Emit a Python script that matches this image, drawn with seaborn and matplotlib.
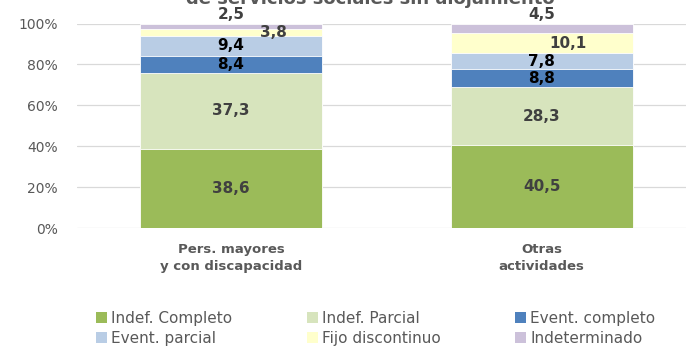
import matplotlib
matplotlib.use("Agg")
import matplotlib.pyplot as plt
import numpy as np
import pandas as pd
import seaborn as sns
from matplotlib.patches import Patch
from matplotlib.ticker import PercentFormatter

# Contract types by activity (share of employees, %)
categories = ["Pers. mayores\ny con discapacidad", "Otras\nactividades"]
series = ["Indef. Completo", "Indef. Parcial", "Event. completo",
          "Event. parcial", "Fijo discontinuo", "Indeterminado"]
indef_completo = [38.6, 40.5]
indef_parcial = [37.3, 28.3]
event_completo = [8.4, 8.8]
event_parcial = [9.4, 7.8]
fijo_discontinuo = [3.8, 10.1]
indeterminado = [2.5, 4.5]
title = "de servicios sociales sin alojamiento"

values = [indef_completo, indef_parcial, event_completo,
          event_parcial, fijo_discontinuo, indeterminado]

colors = ["#9BBB59", "#D7E4BD", "#4F81BD", "#B9CDE5", "#FFFFCC", "#CCC1DA"]
label_colors = ["#404040", "#404040", "#000000", "#000000", "#404040", "#404040"]
grey = "#595959"

sns.set_theme(style="white")
plt.rcParams["font.family"] = ["DejaVu Sans"]

fig = plt.figure(figsize=(6.86, 3.48), dpi=100)
ax = fig.add_axes([77 / 686, 1 - 228 / 348, 609 / 686, (228 - 23.5) / 348])

# long table with cumulative tops per segment
rows = []
for s, vals in zip(series, values):
    for c, v in zip(categories, vals):
        rows.append({"category": c, "series": s, "value": v})
df = pd.DataFrame(rows)
df["top"] = df.groupby("category")["value"].cumsum()
df["bottom"] = df["top"] - df["value"]

bar_width = 0.586
# draw from the outermost cumulative layer inwards so each segment shows
for s, col in reversed(list(zip(series, colors))):
    sub = df[df["series"] == s]
    sns.barplot(data=sub, x="category", y="top", order=categories,
                color=col, saturation=1, width=bar_width, errorbar=None,
                edgecolor="white", linewidth=0.6, ax=ax, zorder=2)

# data labels
label_dx = {"Fijo discontinuo": [0.135, 0.084]}
for s, lc in zip(series, label_colors):
    sub = df[df["series"] == s].set_index("category").loc[categories]
    for i, (c, r) in enumerate(sub.iterrows()):
        txt = f"{r['value']:.1f}".replace(".", ",")
        dx = label_dx.get(s, [0, 0])[i]
        if s == "Indeterminado":
            ax.annotate(txt, (i, r["top"]), xytext=(0, 6.5),
                        textcoords="offset points", ha="center", va="center",
                        fontsize=11, fontweight="bold", color=lc,
                        annotation_clip=False)
        else:
            ax.text(i + dx, r["bottom"] + r["value"] / 2, txt,
                    ha="center", va="center", fontsize=11,
                    fontweight="bold", color=lc, zorder=5)

ax.set_xlim(-0.496, 1.465)
ax.set_ylim(0, 100)
ax.set_yticks(np.arange(0, 101, 20))
ax.yaxis.set_major_formatter(PercentFormatter(100, decimals=0))
ax.yaxis.grid(True, color="#D9D9D9", linewidth=0.9)
ax.xaxis.grid(False)
ax.set_axisbelow(True)
for sp in ax.spines.values():
    sp.set_visible(False)
ax.set_xlabel("")
ax.set_ylabel("")
ax.tick_params(axis="y", length=0, pad=14, labelsize=10, labelcolor=grey)
ax.tick_params(axis="x", length=0, pad=11, labelsize=9.5, labelcolor=grey)
for t in ax.get_xticklabels():
    t.set_fontweight("bold")
    t.set_linespacing(1.35)

# title (its upper part runs off the canvas)
fig.text(370 / 686, 1 - 3.5 / 348, title, ha="center", va="baseline",
         fontsize=13, fontweight="bold", color=grey)

# legend: three columns of two entries each
handles = [Patch(facecolor=c, edgecolor="none", label=s)
           for s, c in zip(series, colors)]
col_x = [96, 307, 515]
for j, x in enumerate(col_x):
    leg = fig.legend(handles=[handles[j], handles[j + 3]],
                     loc="upper left", bbox_to_anchor=(x / 686, 1 - 311 / 348),
                     frameon=False, fontsize=11, handlelength=0.7,
                     handleheight=0.7, handletextpad=0.3, labelspacing=0.3,
                     borderpad=0, borderaxespad=0, labelcolor=grey)

fig.savefig("out.png", dpi=100)
